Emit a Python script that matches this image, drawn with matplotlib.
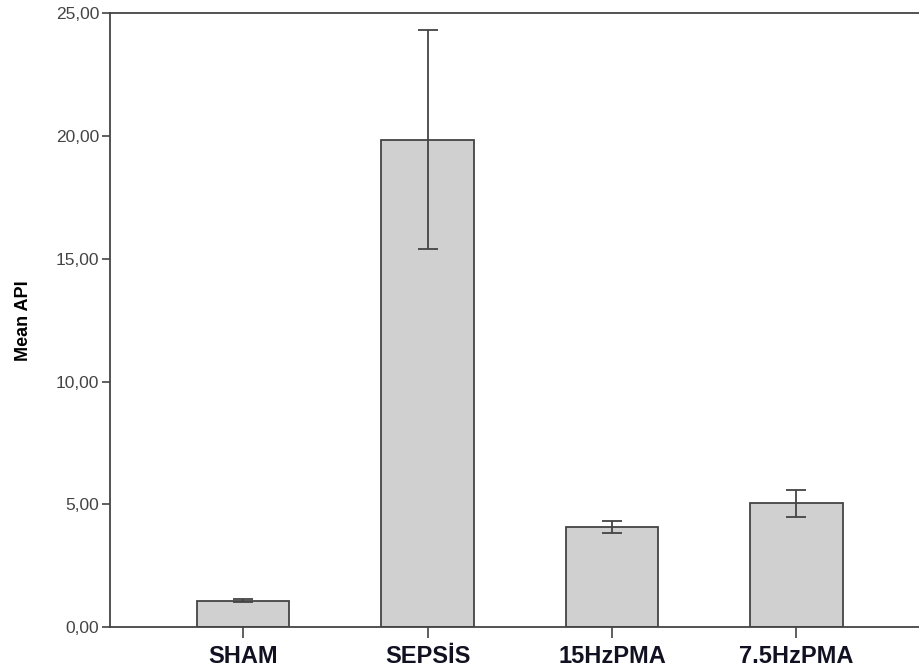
import matplotlib
matplotlib.use("Agg")
import matplotlib.pyplot as plt
from matplotlib.ticker import FuncFormatter

groups = ["SHAM", "SEPSİS", "15HzPMA", "7.5HzPMA"]
mean_api = [1.08, 19.85, 4.08, 5.05]
err_api = [0.06, 4.46, 0.25, 0.55]

fig = plt.figure(figsize=(9.2, 6.68), dpi=100)
ax = fig.add_axes([0.12, 0.061, 0.88, 0.919])

edge = "#444444"
ax.bar(range(len(groups)), mean_api, width=0.5, color="#d0d0d0",
       edgecolor=edge, linewidth=1.3, zorder=2)
ax.errorbar(range(len(groups)), mean_api, yerr=err_api, fmt="none",
            ecolor=edge, elinewidth=1.3, capsize=7, capthick=1.3, zorder=3)

ax.set_xlim(-0.72, 3.67)
ax.set_ylim(0, 25)
ax.set_yticks([0, 5, 10, 15, 20, 25])
ax.yaxis.set_major_formatter(FuncFormatter(lambda v, p: f"{v:.2f}".replace(".", ",")))
ax.set_xticks(range(len(groups)))
ax.set_xticklabels(groups, fontsize=17, fontweight="bold", family="Liberation Sans",
                   color="#111122")
for lab in ax.get_yticklabels():
    lab.set_fontfamily("Liberation Sans")
    lab.set_fontsize(12.5)
    lab.set_color("#444444")
ax.tick_params(axis="y", length=6, width=1.2, color=edge, pad=2)
ax.tick_params(axis="x", length=8, width=1.2, color=edge, pad=5)

ax.set_ylabel("Mean API", fontsize=13, fontweight="bold", family="Liberation Sans",
              labelpad=17)

for s in ["left", "top", "bottom"]:
    ax.spines[s].set_color(edge)
    ax.spines[s].set_linewidth(1.3)
ax.spines["right"].set_visible(False)

fig.savefig("out.png", dpi=100)
